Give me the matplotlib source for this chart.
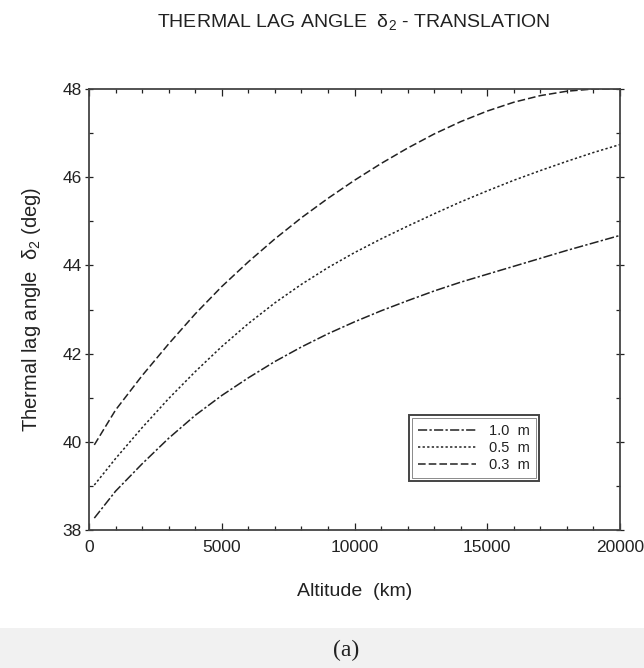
import matplotlib
matplotlib.use("Agg")
import matplotlib.pyplot as plt
from matplotlib.patches import Rectangle
from matplotlib.ticker import MultipleLocator

plt.rcParams['font.family'] = ['Liberation Sans', 'DejaVu Sans']
plt.rcParams['mathtext.fontset'] = 'custom'
plt.rcParams['mathtext.rm'] = 'Liberation Sans'

altitude_km = [200, 1000, 2000, 3000, 4000, 5000, 6000, 7000, 8000, 9000, 10000,
               11000, 12000, 13000, 14000, 15000, 16000, 17000, 18000, 19000, 20000]

lag_1_0m = [38.27, 38.88, 39.50, 40.08, 40.60, 41.05, 41.45, 41.82, 42.15, 42.45, 42.72,
            42.97, 43.20, 43.42, 43.62, 43.80, 43.98, 44.16, 44.34, 44.51, 44.68]
lag_0_5m = [39.02, 39.62, 40.32, 40.98, 41.59, 42.16, 42.68, 43.15, 43.57, 43.95, 44.29,
            44.60, 44.89, 45.17, 45.44, 45.69, 45.93, 46.15, 46.36, 46.56, 46.74]
lag_0_3m = [39.93, 40.72, 41.50, 42.22, 42.90, 43.52, 44.08, 44.60, 45.08, 45.52, 45.93,
            46.31, 46.66, 46.98, 47.26, 47.50, 47.70, 47.85, 47.95, 48.00, 48.00]

series_labels = ['1.0  m', '0.5  m', '0.3  m']
x_ticks = [0, 5000, 10000, 15000, 20000]
y_ticks = [38, 40, 42, 44, 46, 48]

ink = '#222222'
W, H = 644, 668

fig = plt.figure(figsize=(W / 100, H / 100), dpi=100)
fig.patch.set_facecolor('white')

# light grey strip behind the panel caption
fig.add_artist(Rectangle((0, 0), 1, 40 / H, transform=fig.transFigure,
                         facecolor='#f1f1f1', edgecolor='none', zorder=0))

ax = fig.add_axes([89 / W, 138 / H, 531 / W, 441 / H])

ax.plot(altitude_km, lag_1_0m, color=ink, lw=1.1, dashes=(6, 1.5, 1.5, 1.5),
        label=series_labels[0])
ax.plot(altitude_km, lag_0_5m, color=ink, lw=1.1, dashes=(1.5, 1.5),
        label=series_labels[1])
ax.plot(altitude_km, lag_0_3m, color=ink, lw=1.1, dashes=(5, 2),
        label=series_labels[2])

ax.set_xlim(0, 20000)
ax.set_ylim(38, 48)
ax.set_xticks(x_ticks)
ax.set_yticks(y_ticks)
ax.xaxis.set_minor_locator(MultipleLocator(1000))
ax.yaxis.set_minor_locator(MultipleLocator(1))
ax.tick_params(which='both', direction='in', top=True, right=True, colors=ink,
               labelsize=12.5, width=0.9)
ax.tick_params(which='major', length=5, pad=7)
ax.tick_params(which='minor', length=3)
ax.tick_params(axis='y', which='major', direction='inout', length=6, pad=2)
for s in ax.spines.values():
    s.set_color('#444444')
    s.set_linewidth(1.3)

ax.set_xlabel('Altitude  (km)', fontsize=14, color=ink, labelpad=20)
ax.set_ylabel(r'Thermal lag angle  $\mathrm{\delta_2}$ (deg)', fontsize=14.5,
              color=ink, labelpad=14)

fig.text(354 / W, 1 - 22 / H, r'THERMAL LAG ANGLE  $\mathrm{\delta_2}$ - TRANSLATION',
         ha='center', va='center', fontsize=14, color=ink)
fig.text(346 / W, 1 - 650 / H, '(a)', ha='center', va='center', fontsize=17,
         color=ink, family=['Liberation Serif', 'DejaVu Serif'])

leg = ax.legend(loc='upper left', bbox_to_anchor=((409 - 89) / 531, (530 - 415) / 441),
                fancybox=False, framealpha=1, edgecolor='#444444',
                fontsize=10.5, handlelength=4.0, handletextpad=0.9, borderpad=0.6,
                labelspacing=0.22, borderaxespad=0)
leg.get_frame().set_linewidth(1.4)
for t in leg.get_texts():
    t.set_color(ink)

# inner rule of the double legend frame
fig.canvas.draw()
bb = leg.get_window_extent()
inset = 3
fig.add_artist(Rectangle(((bb.x0 + inset) / W, (bb.y0 + inset) / H),
                         (bb.width - 2 * inset) / W, (bb.height - 2 * inset) / H,
                         transform=fig.transFigure, fill=False,
                         edgecolor='#777777', lw=0.6, zorder=10))

fig.savefig('out.png', dpi=100)
